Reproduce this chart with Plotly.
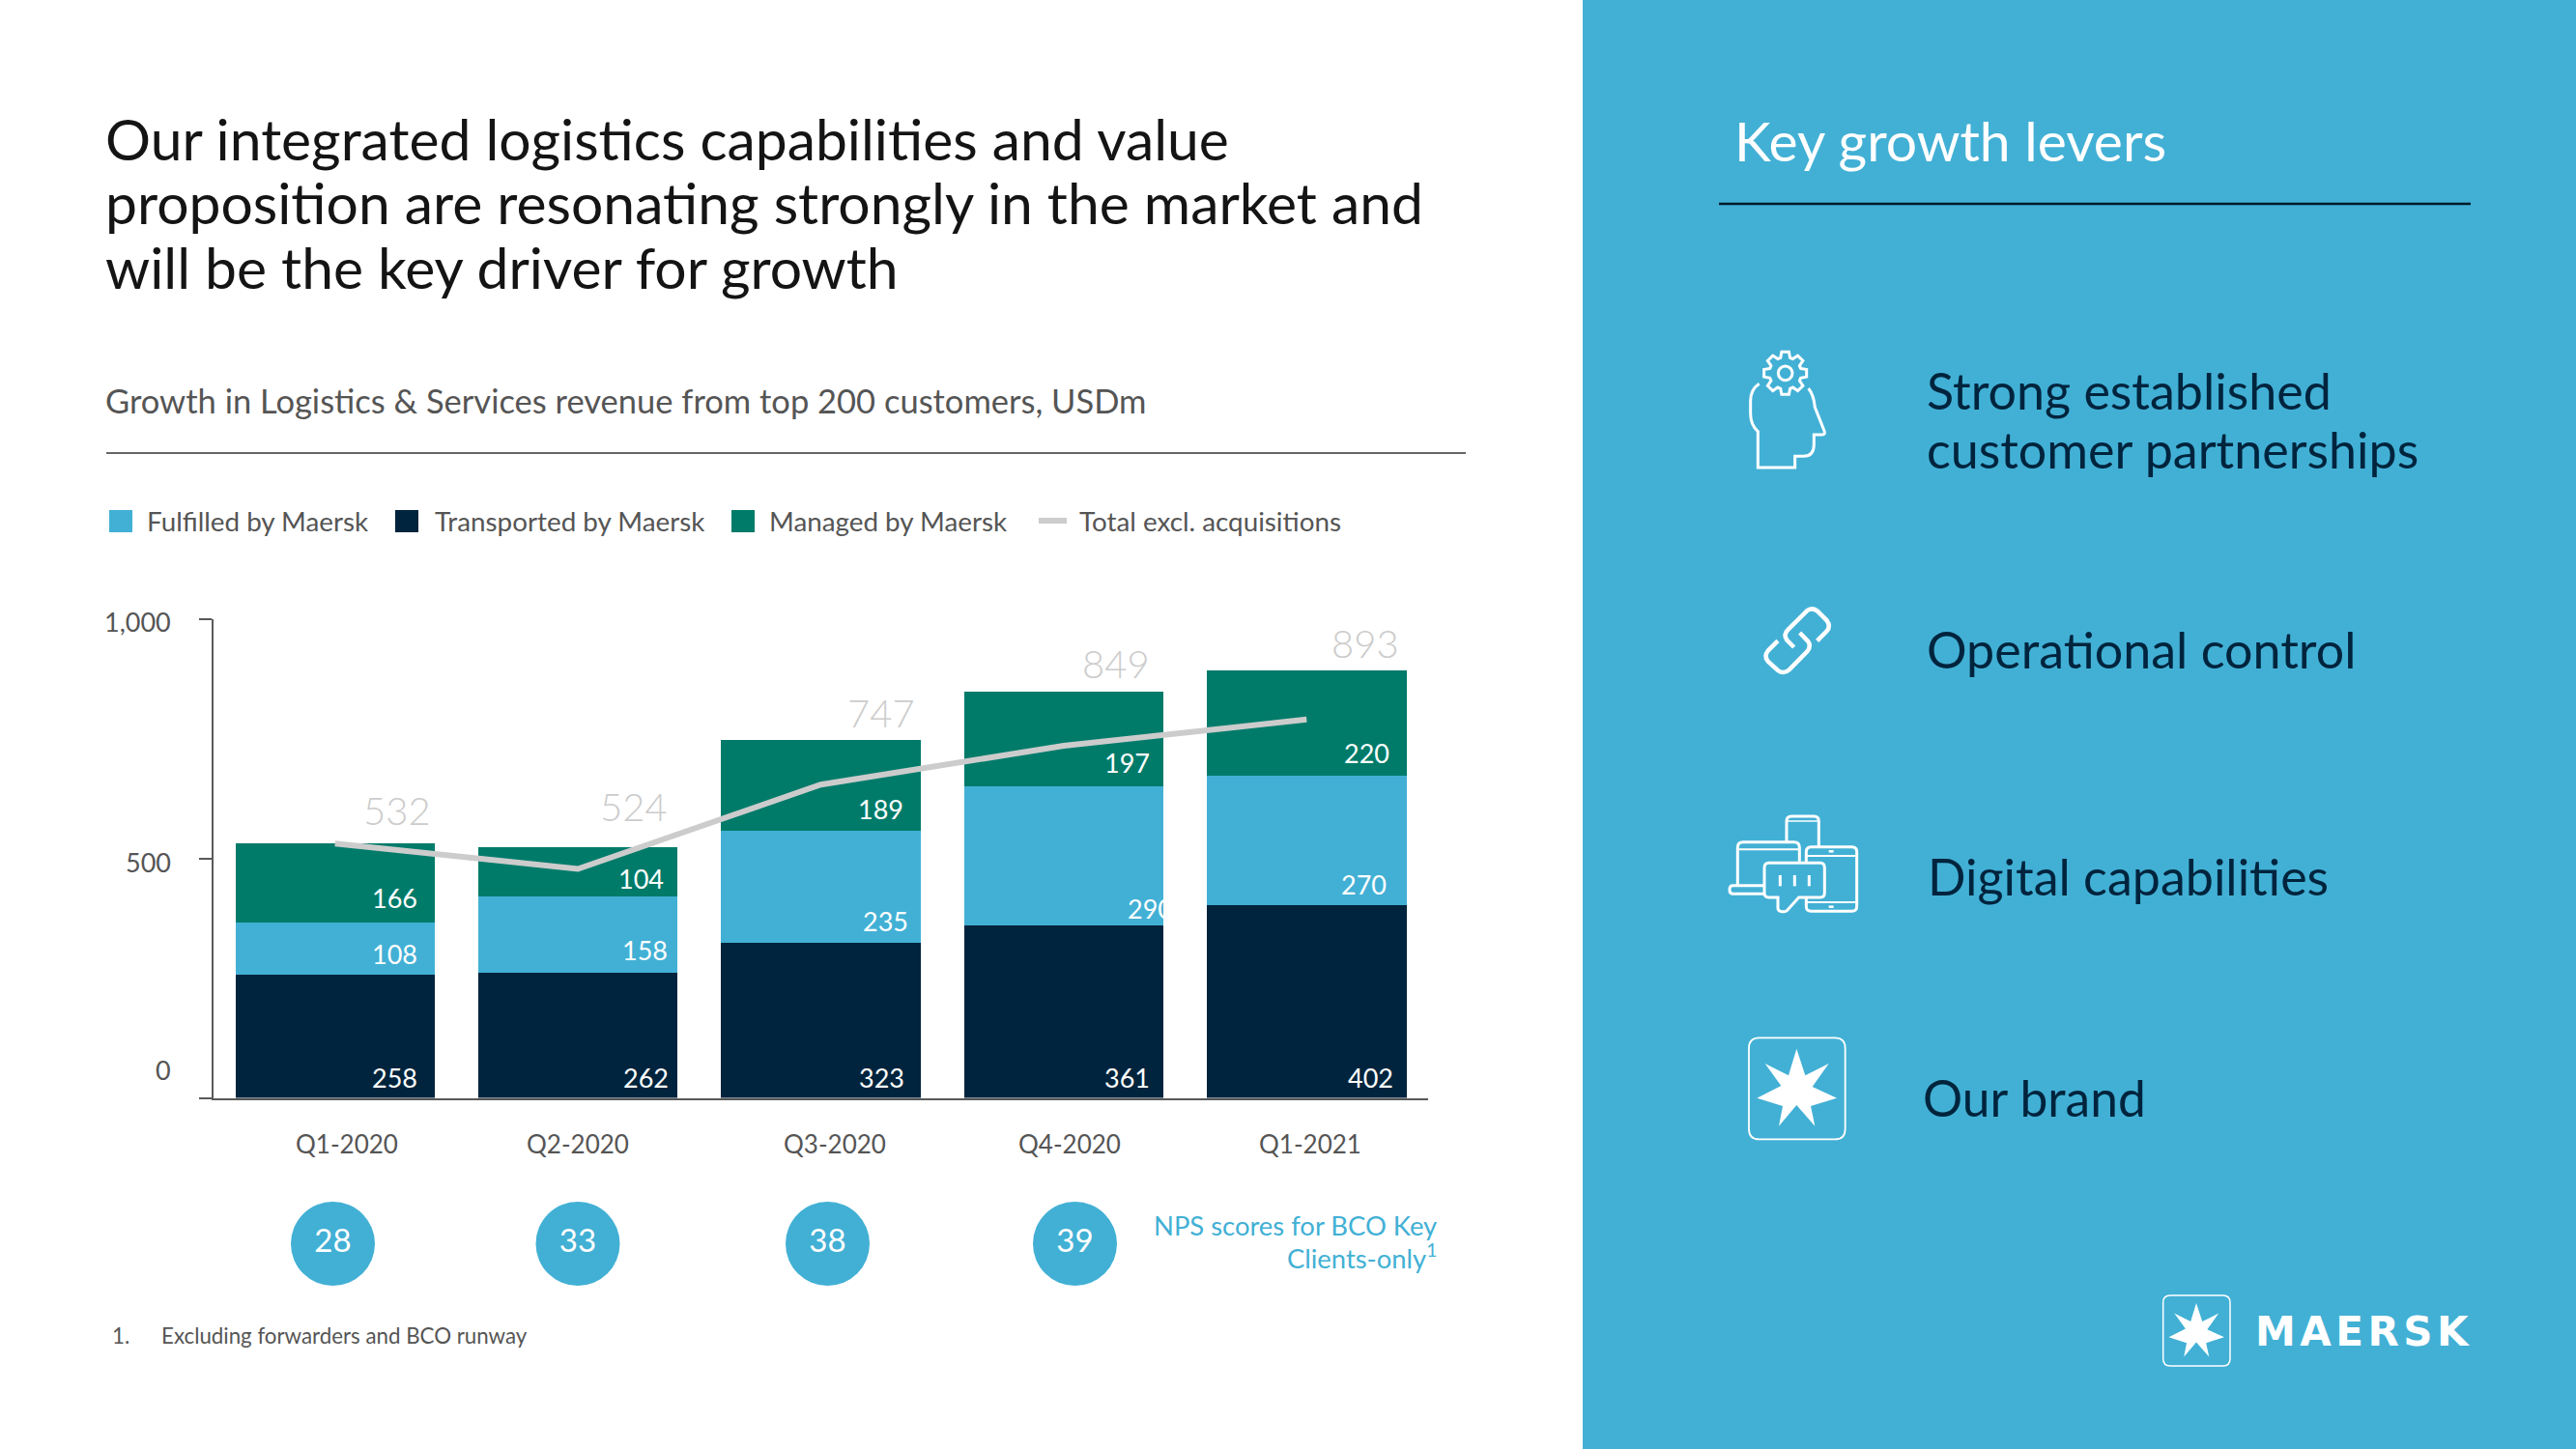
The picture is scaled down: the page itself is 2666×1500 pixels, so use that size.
import math
import plotly.graph_objects as go

# ---------- data ----------
quarters = ["Q1-2020", "Q2-2020", "Q3-2020", "Q4-2020", "Q1-2021"]
transported = [258, 262, 323, 361, 402]
fulfilled = [108, 158, 235, 290, 270]
managed = [166, 104, 189, 197, 220]
totals = [532, 524, 747, 849, 893]
total_excl_acq = [531, 478, 654, 735, 790]
nps_scores = [28, 33, 38, 39]

# ---------- style / layout ----------
BLUE = "#42B0D5"
NAVY = "#00243D"
GREEN = "#007B6A"
GREY_LINE = "#CCCCCC"
TXT = "#555555"
FONT = "Lato"
W, H = 2666, 1500

# per-label nudges relative to bar centre / segment base, in px
dx_transported = [87, 96, 88, 91, 92]
dx_fulfilled = [87, 95, 92, 115, 85]
dx_managed = [87, 91, 87, 91, 88]
dy_fulfilled = [21, 23, 23, 17, 22]
dy_managed = [26, 19, 22, 24, 24]
dx_totals = [101, 95, 99, 91, 98]
dy_totals = [34, 42, 28, 29, 28]
dx_qlabels = [12, 0, 14, 6, 4]
nps_px = [344.5, 598, 856.5, 1112.5]

fig = go.Figure()
for name, vals, col in [("Transported by Maersk", transported, NAVY),
                        ("Fulfilled by Maersk", fulfilled, BLUE),
                        ("Managed by Maersk", managed, GREEN)]:
    fig.add_bar(x=quarters, y=vals, name=name, marker=dict(color=col, line_width=0),
                width=0.821, hoverinfo="skip", showlegend=False)
fig.add_scatter(x=quarters, y=total_excl_acq, mode="lines", name="Total excl. acquisitions",
                line=dict(color=GREY_LINE, width=6), hoverinfo="skip", showlegend=False)
fig.add_scatter(x=nps_px, y=[1287.5] * len(nps_scores), xaxis="x2", yaxis="y2",
                mode="markers+text", text=[str(v) for v in nps_scores],
                textposition="middle center", textfont=dict(family=FONT, size=33, color="white"),
                marker=dict(size=87, color=BLUE, line_width=0), hoverinfo="skip", showlegend=False)

ann = []
def t(x, y, s, size, color=TXT, anchor="left", family=FONT, weight=None):
    f = dict(family=family, size=size, color=color)
    if weight:
        f["weight"] = weight
    ann.append(dict(x=x, y=y, xref="x2", yref="y2", text=s, font=f, showarrow=False,
                    xanchor=anchor, yanchor="middle", align=anchor))

def bar_label(q, yval, s, dx, dy, size=27, color="white", weight=None):
    f = dict(family=FONT, size=size, color=color)
    if weight:
        f["weight"] = weight
    ann.append(dict(x=q, y=yval, xref="x", yref="y", text=s, font=f, showarrow=False,
                    xanchor="right", yanchor="middle", xshift=dx, yshift=dy))

for i, q in enumerate(quarters):
    bar_label(q, 0, str(transported[i]), dx_transported[i], 21)
    bar_label(q, transported[i], str(fulfilled[i]), dx_fulfilled[i], dy_fulfilled[i])
    bar_label(q, transported[i] + fulfilled[i], str(managed[i]), dx_managed[i], dy_managed[i])
    bar_label(q, totals[i], str(totals[i]), dx_totals[i], dy_totals[i], size=40, color="#CCCCCC", weight=300)
    ann.append(dict(x=q, y=0, xref="x", yref="y", text=q, showarrow=False, xanchor="center",
                    yanchor="middle", xshift=dx_qlabels[i], yshift=-47,
                    font=dict(family=FONT, size=26, color=TXT)))

# y tick labels
for s, yy in [("1,000", 643), ("500", 892), ("0", 1107)]:
    t(179, yy, s, 27, anchor="right")

# heading text
for yy, s in [(143.5, "Our integrated logistics capabilities and value"),
              (209.5, "proposition are resonating strongly in the market and"),
              (276.5, "will be the key driver for growth")]:
    t(107, yy, s, 58.8, "#141414")
t(107, 414, "Growth in Logistics &amp; Services revenue from top 200 customers, USDm", 34.5, TXT)

# legend
leg_y = 539
for lx, s in [(150, "Fulfilled by Maersk"), (448, "Transported by Maersk"), (794, "Managed by Maersk")]:
    t(lx, leg_y, s, 27.8)
t(1115, leg_y, "Total excl. acquisitions", 27.8)

# NPS note, footnote
t(1489, 1268, "NPS scores for BCO Key", 27.4, BLUE, "right")
t(1489, 1300, "Clients-only<sup>1</sup>", 27.4, BLUE, "right")
t(114, 1382, "1.", 22.3)
t(165, 1382, "Excluding forwarders and BCO runway", 22.3)

# right panel text
t(1793, 144.5, "Key growth levers", 57, "white")
t(1992, 404, "Strong established", 52, NAVY)
t(1992, 465, "customer partnerships", 52, NAVY)
t(1992, 672, "Operational control", 52, NAVY)
t(1993, 907, "Digital capabilities", 52, NAVY)
t(1988, 1136, "Our brand", 51.5, NAVY)
t(2332, 1378, '<span style="letter-spacing:4.5px">MAERSK</span>', 42, "white", family="DejaVu Sans", weight=700)

# ---------- shapes ----------
shapes = []
def rect(x0, y0, x1, y1, fill, layer="below"):
    shapes.append(dict(type="rect", xref="x2", yref="y2", x0=x0, y0=y0, x1=x1, y1=y1,
                       fillcolor=fill, line_width=0, layer=layer))
def line(x0, y0, x1, y1, color, w):
    shapes.append(dict(type="line", xref="x2", yref="y2", x0=x0, y0=y0, x1=x1, y1=y1,
                       line=dict(color=color, width=w), layer="above"))
def path(d, w=2.5, color="white", fill=None):
    s = dict(type="path", xref="x2", yref="y2", path=d, line=dict(color=color, width=w), layer="above")
    if fill:
        s["fillcolor"] = fill
    shapes.append(s)

def tr(cmds, ox, oy, k=1 / 3):
    """cmds: list of (letter, coords...) measured in a 3x crop; mapped to page px."""
    out = []
    for c in cmds:
        if c[0] == "Z":
            out.append("Z")
            continue
        pts = c[1:]
        vals = []
        for i in range(0, len(pts), 2):
            vals.append(f"{ox + pts[i] * k:.2f},{oy + pts[i + 1] * k:.2f}")
        out.append(c[0] + " ".join(vals))
    return " ".join(out)

rect(1638, 0, W, H, BLUE)
line(1779, 211, 2557, 211, "#001A2B", 2.5)
line(110, 469, 1517, 469, "#333333", 1.5)
rect(113, 528, 137, 551, BLUE)
rect(409, 528, 433, 551, NAVY)
rect(757, 528, 781, 551, GREEN)
line(1075, 539, 1104, 539, GREY_LINE, 6)

# head + gear icon
O = (1760, 340)
path(tr([("M", 182, 172), ("Q", 155, 190, 155, 225), ("L", 155, 265), ("Q", 155, 300, 178, 320),
         ("L", 178, 432), ("L", 293, 432), ("L", 293, 397), ("L", 320, 397), ("Q", 352, 397, 352, 360),
         ("L", 352, 330), ("L", 378, 330), ("Q", 388, 330, 384, 318), ("L", 355, 245),
         ("Q", 352, 208, 335, 186)], *O), w=3)
teeth = []
cx, cy = 263, 139
for i in range(8):
    a = i * math.pi / 4 - math.pi / 2
    for off, r in [(-0.30, 50), (-0.17, 67), (0.17, 67), (0.30, 50)]:
        teeth.append((a + off, r))
g = []
for i, (a, r) in enumerate(teeth):
    g.append(("M" if i == 0 else "L", cx + r * math.cos(a), cy + r * math.sin(a)))
g.append(("Z",))
path(tr(g, *O), w=3)
shapes.append(dict(type="circle", xref="x2", yref="y2", x0=O[0] + (cx - 22) / 3, x1=O[0] + (cx + 22) / 3,
                   y0=O[1] + (cy - 22) / 3, y1=O[1] + (cy + 22) / 3, line=dict(color="white", width=3),
                   layer="above"))

# chain icon
path(tr([("M", 290, 990), ("L", 268, 968), ("Q", 256, 950, 272, 935), ("L", 330, 877), ("Q", 345, 865, 362, 877),
         ("L", 392, 907), ("Q", 405, 925, 392, 940), ("L", 362, 970)], *O), w=4.5)
path(tr([("M", 240, 970), ("L", 210, 1000), ("Q", 195, 1018, 210, 1035), ("L", 240, 1062), ("Q", 258, 1075, 275, 1060),
         ("L", 332, 1002), ("Q", 345, 985, 332, 970), ("L", 308, 945)], *O), w=4.5)

# devices icon
O = (1760, 820)
path(tr([("M", 267, 155), ("L", 267, 90), ("Q", 267, 75, 282, 75), ("L", 352, 75), ("Q", 367, 75, 367, 90), ("L", 367, 168)], *O), w=3)
path(tr([("M", 267, 90), ("L", 367, 90)], *O), w=1.5)
path(tr([("M", 115, 290), ("L", 115, 172), ("Q", 115, 155, 132, 155), ("L", 290, 155), ("Q", 307, 155, 307, 172), ("L", 307, 215)], *O), w=3)
path(tr([("M", 115, 178), ("L", 307, 178)], *O), w=2)
path(tr([("M", 198, 290), ("L", 100, 290), ("Q", 90, 290, 90, 303), ("Q", 90, 316, 100, 316), ("L", 198, 316)], *O), w=3)
path(tr([("M", 328, 185), ("Q", 328, 170, 343, 170), ("L", 470, 170), ("Q", 485, 170, 485, 185), ("L", 485, 355),
         ("Q", 485, 370, 470, 370), ("L", 343, 370), ("Q", 328, 370, 328, 355), ("Z",)], *O), w=3)
path(tr([("M", 328, 198), ("L", 485, 198)], *O), w=2)
path(tr([("M", 328, 342), ("L", 485, 342)], *O), w=2)
path(tr([("M", 198, 235), ("Q", 198, 220, 212, 220), ("L", 372, 220), ("Q", 385, 220, 385, 235), ("L", 385, 312),
         ("Q", 385, 327, 372, 327), ("L", 305, 327), ("L", 268, 368), ("Q", 260, 374, 248, 370), ("Q", 240, 368, 240, 360),
         ("L", 240, 327), ("L", 212, 327), ("Q", 198, 327, 198, 312), ("Z",)], *O), w=3, fill=BLUE)
for bx in (247, 292, 337):
    path(tr([("M", bx, 258), ("L", bx, 292)], *O), w=3)
for by in (184, 356):
    path(tr([("M", 398, by), ("L", 413, by)], *O), w=2.5)

# Maersk star in rounded box
STAR = [(298, 797), (325, 880), (398, 843), (347, 915), (423, 950), (342, 975), (355, 1037), (298, 972),
        (243, 1037), (255, 975), (175, 950), (250, 912), (200, 843), (273, 880)]
def brand(ox, oy, k, lw):
    # geometry measured in the 3x crop of the large mark
    x0, y0, x1, y1, r = 150, 763, 449, 1078, 32
    path(tr([("M", x0 + r, y0), ("L", x1 - r, y0), ("Q", x1, y0, x1, y0 + r), ("L", x1, y1 - r), ("Q", x1, y1, x1 - r, y1),
             ("L", x0 + r, y1), ("Q", x0, y1, x0, y1 - r), ("L", x0, y0 + r), ("Q", x0, y0, x0 + r, y0), ("Z",)], ox, oy, k), w=lw)
    cmds = [("M" if i == 0 else "L", p[0], p[1]) for i, p in enumerate(STAR)] + [("Z",)]
    s = dict(type="path", xref="x2", yref="y2", path=tr(cmds, ox, oy, k), fillcolor="white",
             line_width=0, layer="above")
    shapes.append(s)
brand(1760, 820, 1 / 3, 1.8)
kk = (2308 - 2238.7) / (449 - 150)
brand(2238.7 - 150 * kk, 1341 - 763 * kk, kk, 1.5)

fig.update_layout(
    width=W, height=H, barmode="stack", bargap=0.18, showlegend=False,
    margin=dict(l=0, r=0, t=0, b=0, pad=0),
    paper_bgcolor="white", plot_bgcolor="rgba(0,0,0,0)",
    font=dict(family=FONT),
    xaxis=dict(type="category", domain=[221 / W, 1478 / W], range=[-0.5, 4.5], showgrid=False, zeroline=False,
               showline=True, linecolor="#595959", linewidth=2, ticks="", showticklabels=False, fixedrange=True),
    yaxis=dict(domain=[1 - 1136.6 / H, 1 - 640.6 / H], range=[0, 1000], tickvals=[0, 500, 1000], showgrid=False,
               zeroline=False, showline=True, linecolor="#595959", linewidth=2, ticks="outside", ticklen=13,
               tickwidth=2, tickcolor="#595959", showticklabels=False, fixedrange=True),
    xaxis2=dict(domain=[0, 1], range=[0, W], visible=False, anchor="y2", fixedrange=True),
    yaxis2=dict(domain=[0, 1], range=[H, 0], visible=False, anchor="x2", fixedrange=True),
    shapes=shapes, annotations=ann,
)
fig.write_html("out.html", config={"displayModeBar": False},
               post_script="document.body.style.margin='0';document.body.style.overflow='hidden';")
